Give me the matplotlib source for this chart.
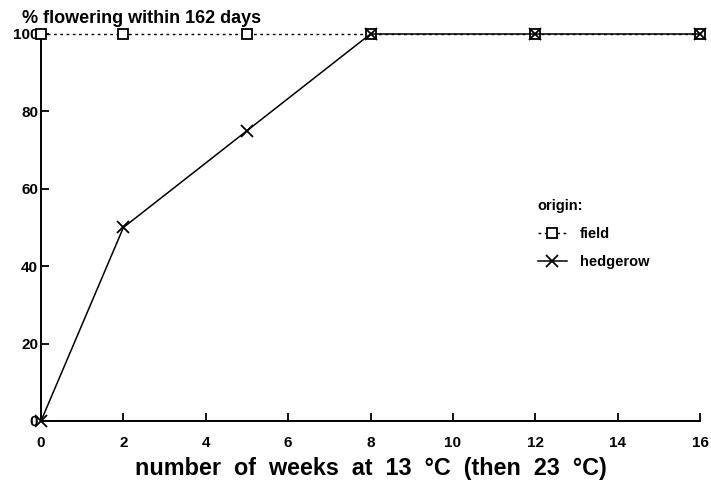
import matplotlib
matplotlib.use("Agg")
import matplotlib.pyplot as plt

weeks = [0, 2, 5, 8, 12, 16]
field = [100, 100, 100, 100, 100, 100]
hedgerow = [0, 50, 75, 100, 100, 100]
xticks = [0, 2, 4, 6, 8, 10, 12, 14, 16]
yticks = [0, 20, 40, 60, 80, 100]

plt.rcParams['font.family'] = ['Liberation Sans', 'DejaVu Sans']
plt.rcParams['font.weight'] = 'bold'

fig = plt.figure(figsize=(7.11, 4.82), dpi=100)
ax = fig.add_axes([0.0577, 0.1266, 0.9268, 0.8029])

l1, = ax.plot(weeks, field, linestyle=(0, (2, 2.5)), color='black', lw=1.0,
              marker='s', markersize=7, markerfacecolor='white',
              markeredgecolor='black', markeredgewidth=1.3, clip_on=False, zorder=3)
l2, = ax.plot(weeks, hedgerow, linestyle='-', color='black', lw=1.1,
              marker='x', markersize=9, markeredgewidth=1.3, clip_on=False, zorder=4)

ax.set_xlim(0, 16)
ax.set_ylim(0, 100)
ax.set_xticks(xticks)
ax.set_yticks(yticks)
ax.tick_params(direction='in', length=6, width=1.3, labelsize=11, pad=11)
ax.tick_params(axis='y', pad=2)
for s in ['top', 'right']:
    ax.spines[s].set_visible(False)
for s in ['left', 'bottom']:
    ax.spines[s].set_linewidth(1.4)

ax.set_xlabel('number  of  weeks  at  13  \u00b0C  (then  23  \u00b0C)', fontsize=16.8,
              fontweight='bold', labelpad=5)
fig.text(0.031, 0.962, '% flowering within 162 days', fontsize=13,
         fontweight='bold', ha='left', va='center')

leg = ax.legend([l1, l2], ['field', 'hedgerow'], title='origin:',
                loc='upper left', bbox_to_anchor=(0.734, 0.607), frameon=False,
                fontsize=10.5, title_fontsize=10.5, handlelength=2.0,
                handletextpad=0.9, labelspacing=0.95, alignment='left')
leg.get_title().set_fontweight('bold')

fig.savefig('out.png', dpi=100)
